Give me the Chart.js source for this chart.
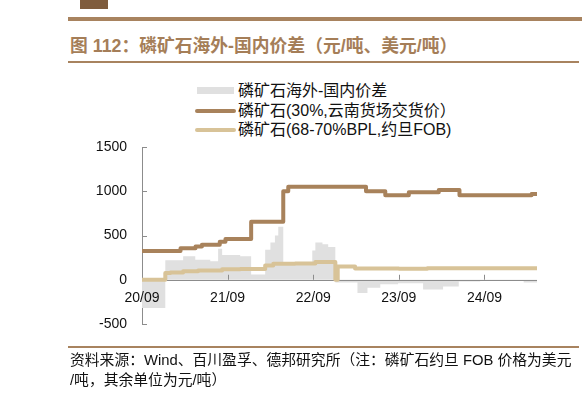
<!DOCTYPE html>
<html>
<head>
<meta charset="utf-8">
<script src="https://cdn.jsdelivr.net/npm/chart.js@4.4.1/dist/chart.umd.min.js"></script>
<style>
  body { margin: 0; background: #fff; width: 582px; height: 397px; overflow: hidden; position: relative; font-family: "Liberation Sans", "Noto Sans CJK SC", sans-serif; }
  #grafico { position: absolute; left: 0; top: 0; }
  .logo { position: absolute; left: 80px; top: 0; width: 28px; height: 9px; background: #7f5c3d; }
  .linha-topo { position: absolute; left: 68px; top: 17px; width: 514px; height: 3.5px; background: #a8835f; }
  .titulo { position: absolute; left: 70px; top: 31px; font: bold 17.8px "Liberation Sans", "Noto Sans CJK SC", sans-serif; color: #a57e58; white-space: nowrap; }
  .linha-titulo { position: absolute; left: 68px; top: 61px; width: 511px; height: 2px; background: #a8835f; }
  .legenda { position: absolute; left: 195px; top: 81px; font-size: 16px; color: #111; }
  .item { height: 19.5px; line-height: 19.5px; white-space: nowrap; position: relative; padding-left: 43px; }
  .marca { position: absolute; left: 0; }
  .linha-rodape { position: absolute; left: 68px; top: 345.5px; width: 511px; height: 2px; background: #a8835f; }
  .rodape { position: absolute; left: 70px; top: 350px; font-size: 14.8px; line-height: 20px; color: #111; white-space: nowrap; }
</style>
</head>
<body>
<div class="logo"></div>
<div class="linha-topo"></div>
<div class="titulo">图 112：磷矿石海外-国内价差（元/吨、美元/吨）</div>
<div class="linha-titulo"></div>
<div class="legenda" id="legenda"></div>
<canvas id="grafico" width="582" height="397"></canvas>
<div class="linha-rodape"></div>
<div class="rodape">资料来源：Wind、百川盈孚、德邦研究所（注：磷矿石约旦 FOB 价格为美元<br>/吨，其余单位为元/吨）</div>

<script>
// séries (datas de mudança de patamar e valores)
const spreadDates = ['2020-09-01','2020-12-09','2021-02-24','2021-04-15','2021-06-18','2021-07-21','2021-08-08','2021-10-24','2021-12-10','2022-02-09','2022-03-01','2022-03-20','2022-04-04','2022-04-25','2022-08-27','2022-09-10','2022-10-10','2022-11-04','2022-12-04','2023-03-07','2023-04-19','2023-06-13','2023-08-28','2023-12-13','2024-03-07','2024-05-13','2024-08-13','2025-02-16','2025-04-12'];
const spreadValues = [-320,220,265,225,210,350,280,265,60,340,420,500,600,180,330,420,400,370,-30,-150,-90,-50,-40,-110,-75,-20,-10,-30,-30];

const yunnanDates = ['2020-09-01','2021-02-13','2021-04-16','2021-05-13','2021-07-28','2021-08-22','2021-12-10','2022-04-25','2022-05-16','2023-04-13','2023-07-04','2023-10-13','2024-02-19','2024-05-16','2025-03-19','2025-04-12'];
const yunnanValues = [325,355,375,395,430,460,655,1000,1050,1000,955,990,1015,955,970,970];

const jordanDates = ['2020-09-01','2020-12-09','2021-01-01','2021-02-24','2021-04-27','2021-08-08','2021-10-24','2022-02-09','2022-03-13','2022-06-15','2022-09-10','2022-12-04','2022-12-14','2023-02-27','2023-09-01','2024-01-01','2025-04-12'];
const jordanValues = [0,75,83,95,105,120,122,160,180,185,200,0,150,128,125,130,130];

const tickMonths = [0, 12, 24, 36, 48];
const tickLabels = ['20/09', '21/09', '22/09', '23/09', '24/09'];

const seriesNames = ['磷矿石海外-国内价差', '磷矿石(30%,云南货场交货价）', '磷矿石(68-70%BPL,约旦FOB)'];
const seriesColors = ['#e0e0e0', '#a8825b', '#d8c398'];

// meses desde 2020-09
function mesesDesde(d) {
    const [a, m, dia] = d.split('-').map(Number);
    return (a - 2020) * 12 + (m - 9) + (dia - 1) / 30;
}

function pontos(datas, valores) {
    return datas.map((d, i) => ({ x: mesesDesde(d), y: valores[i] }));
}

function montarLegenda() {
    const el = document.getElementById('legenda');
    seriesNames.forEach((nome, i) => {
        const item = document.createElement('div');
        item.className = 'item';
        const marca = document.createElement('span');
        marca.className = 'marca';
        if (i === 0) {
            marca.style.cssText = 'top:6px;width:37px;height:7px;left:2px;background:' + seriesColors[0];
        } else {
            marca.style.cssText = 'top:8px;width:41px;height:4px;border-radius:2px;background:' + seriesColors[i];
        }
        item.appendChild(marca);
        item.appendChild(document.createTextNode(nome));
        el.appendChild(item);
    });
}

// linha do zero e marcas internas dos eixos
const eixosPlugin = {
    id: 'eixos',
    afterDatasetDraw(chart, args) {
        if (args.index !== 0) return;
        const { ctx, chartArea, scales } = chart;
        const y0 = scales.y.getPixelForValue(0);
        ctx.save();
        ctx.strokeStyle = '#8c8c8c';
        ctx.lineWidth = 1;
        ctx.beginPath();
        ctx.moveTo(chartArea.left, Math.round(y0) + 0.5);
        ctx.lineTo(chartArea.right, Math.round(y0) + 0.5);
        tickMonths.forEach(m => {
            const x = Math.round(scales.x.getPixelForValue(m)) + 0.5;
            ctx.moveTo(x, y0);
            ctx.lineTo(x, y0 - 5);
        });
        scales.y.ticks.forEach(t => {
            const y = Math.round(scales.y.getPixelForValue(t.value)) + 0.5;
            ctx.moveTo(chartArea.left, y);
            ctx.lineTo(chartArea.left + 5, y);
        });
        ctx.stroke();
        ctx.restore();
    }
};

document.addEventListener('DOMContentLoaded', () => {
    montarLegenda();
    const fim = mesesDesde(spreadDates[spreadDates.length - 1]);
    const ctx = document.getElementById('grafico').getContext('2d');
    new Chart(ctx, {
        type: 'line',
        data: {
            datasets: [{
                label: seriesNames[0],
                data: pontos(spreadDates, spreadValues),
                backgroundColor: seriesColors[0],
                borderWidth: 0,
                fill: 'origin',
                stepped: true,
                order: 3
            }, {
                label: seriesNames[1],
                data: pontos(yunnanDates, yunnanValues),
                borderColor: seriesColors[1],
                borderWidth: 4,
                borderJoinStyle: 'round',
                borderCapStyle: 'round',
                fill: false,
                stepped: true,
                order: 2
            }, {
                label: seriesNames[2],
                data: pontos(jordanDates, jordanValues),
                borderColor: seriesColors[2],
                borderWidth: 4,
                borderJoinStyle: 'round',
                borderCapStyle: 'round',
                fill: false,
                stepped: true,
                order: 1
            }]
        },
        options: {
            responsive: false,
            animation: false,
            events: [],
            layout: { padding: { left: 96, right: 45, top: 147, bottom: 73 } },
            elements: { point: { radius: 0 } },
            plugins: { legend: { display: false }, tooltip: { enabled: false } },
            scales: {
                x: {
                    type: 'linear',
                    position: { y: 0 },
                    min: 0,
                    max: fim,
                    afterFit: s => { s.height = 0; },
                    afterBuildTicks: s => { s.ticks = tickMonths.map(v => ({ value: v })); },
                    grid: { display: false, drawTicks: false },
                    border: { display: false },
                    ticks: {
                        z: 1,
                        padding: 10,
                        maxRotation: 0,
                        autoSkip: false,
                        color: '#111',
                        font: { family: 'Liberation Sans', size: 14 },
                        callback: v => tickLabels[tickMonths.indexOf(v)]
                    }
                },
                y: {
                    min: -500,
                    max: 1500,
                    afterFit: s => { s.width = 46; },
                    grid: { display: false, drawTicks: false },
                    border: { display: true, color: '#8c8c8c', width: 1 },
                    ticks: {
                        stepSize: 500,
                        padding: 15,
                        color: '#111',
                        font: { family: 'Liberation Sans', size: 14 },
                        callback: v => String(v)
                    }
                }
            }
        },
        plugins: [eixosPlugin]
    });
});
</script>
</body>
</html>
